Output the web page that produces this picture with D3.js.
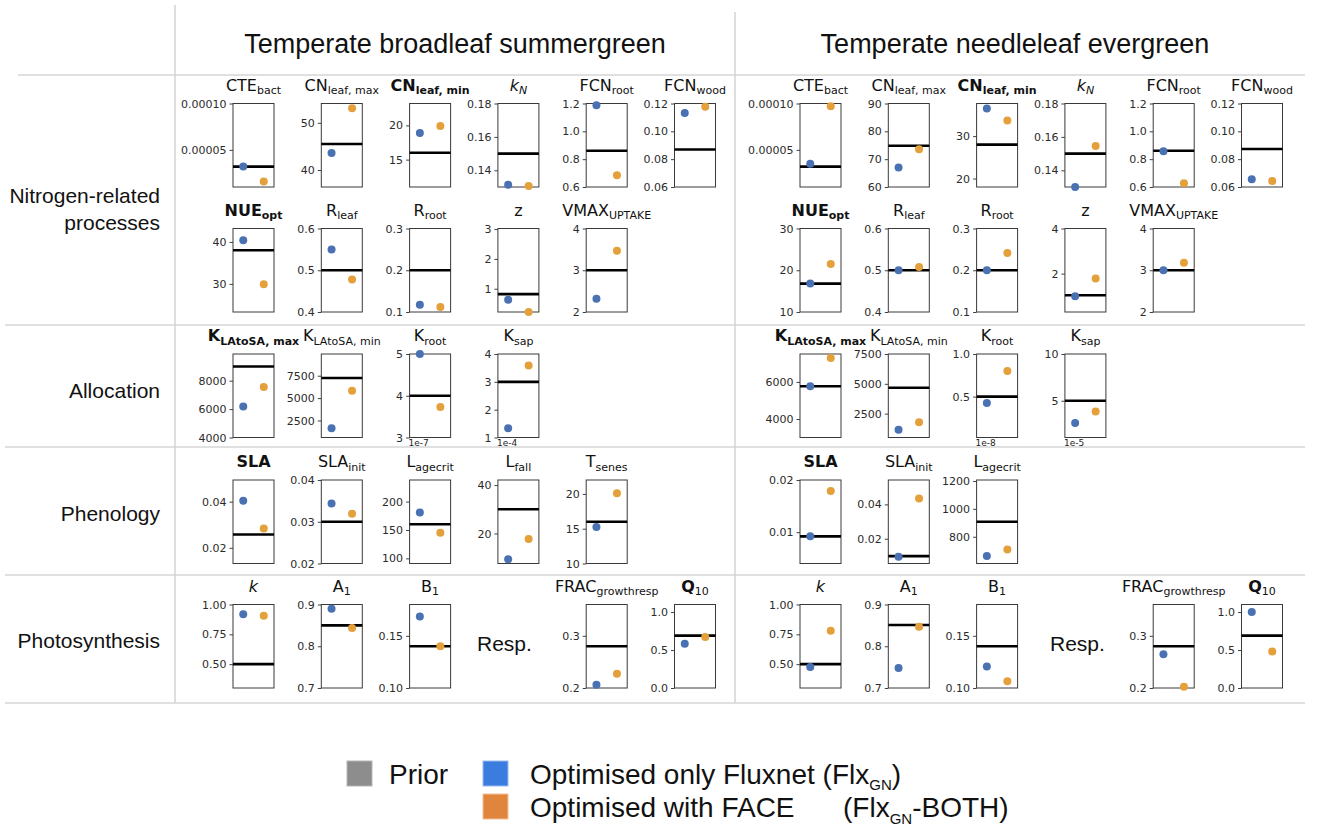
<!DOCTYPE html>
<html>
<head>
<meta charset="utf-8">
<script src="https://cdn.jsdelivr.net/npm/d3@7"></script>
<style>
  body { margin: 0; background: #fff; }
  svg { display: block; }
</style>
</head>
<body>
<svg id="chart" width="1324" height="830"></svg>
<script>
// ---------------------------------------------------------------
// Data: prior and optimised parameter values for two plant types
// ---------------------------------------------------------------
const pftNames = ["Temperate broadleaf summergreen", "Temperate needleleaf evergreen"];
const groupNames = [["Nitrogen-related", "processes"], ["Allocation"], ["Phenology"], ["Photosynthesis"]];
const respLabel = "Resp.";
const legendLabels = ["Prior", "Optimised only Fluxnet", "Optimised with FACE"];

// parameter titles: main symbol, subscript, weight / style flags
const parameterTitles = [
  { main: "CTE", sub: "bact" },
  { main: "CN", sub: "leaf, max" },
  { main: "CN", sub: "leaf, min", bold: true, subBold: true },
  { main: "k", sub: "N", italic: true, subItalic: true },
  { main: "FCN", sub: "root" },
  { main: "FCN", sub: "wood" },
  { main: "NUE", sub: "opt", bold: true, subBold: true },
  { main: "R", sub: "leaf" },
  { main: "R", sub: "root" },
  { main: "z" },
  { main: "VMAX", sub: "UPTAKE" },
  { main: "K", sub: "LAtoSA, max", bold: true, subBold: true },
  { main: "K", sub: "LAtoSA, min" },
  { main: "K", sub: "root" },
  { main: "K", sub: "sap" },
  { main: "SLA", bold: true },
  { main: "SLA", sub: "init" },
  { main: "L", sub: "agecrit" },
  { main: "L", sub: "fall" },
  { main: "T", sub: "senes" },
  { main: "k", italic: true },
  { main: "A", sub: "1" },
  { main: "B", sub: "1" },
  { main: "FRAC", sub: "growthresp" },
  { main: "Q", sub: "10", bold: true }
];

// Temperate broadleaf summergreen
const broadleafPrior   = [3.2e-5, 45.5, 16.0, 0.150, 0.86, 0.087, 38.0, 0.50, 0.20, 0.82, 3.00, 9000, 7240, 4.00, 3.00, 0.0258, 0.030, 160, 30.0, 16.0, 0.50, 0.850, 0.140, 0.280, 0.69];
const broadleafFluxnet = [3.2e-5, 43.6, 18.9, 0.1314, 1.188, 0.1132, 40.4, 0.5496, 0.1176, 0.633, 2.32, 6190, 1640, 5.00, 1.336, 0.0404, 0.0344, 180.6, 9.4, 15.24, 0.919, 0.890, 0.1685, 0.2064, 0.583];
const broadleafFace    = [1.6e-5, 53.1, 19.9, 0.1306, 0.685, 0.1176, 29.9, 0.4776, 0.112, 0.22, 3.47, 7550, 5820, 3.73, 3.59, 0.0284, 0.0319, 145.3, 17.7, 20.1, 0.906, 0.844, 0.140, 0.2274, 0.671];
const broadleafLimits  = [[1e-5, 1e-4], [36.4, 54.1], [11.0, 23.2], [0.13, 0.18], [0.6, 1.2], [0.06, 0.12], [23.3, 43.2], [0.4, 0.6], [0.1, 0.3], [0.22, 3.02], [2, 4], [4000, 9880], [600, 9925], [3, 5], [1, 4], [0.0132, 0.0494], [0.02, 0.04], [91, 238], [7.6, 42.1], [10, 22], [0.3, 1.0], [0.7, 0.9], [0.10, 0.18], [0.2, 0.36], [0, 1.1]];
const broadleafTicks   = [["0.00005", "0.00010"], ["40", "50"], ["15", "20"], ["0.14", "0.16", "0.18"], ["0.6", "0.8", "1.0", "1.2"], ["0.06", "0.08", "0.10", "0.12"], ["30", "40"], ["0.4", "0.5", "0.6"], ["0.1", "0.2", "0.3"], ["1", "2", "3"], ["2", "3", "4"], ["4000", "6000", "8000"], ["2500", "5000", "7500"], ["3", "4", "5"], ["1", "2", "3", "4"], ["0.02", "0.04"], ["0.02", "0.03", "0.04"], ["100", "150", "200"], ["20", "40"], ["10", "15", "20"], ["0.50", "0.75", "1.00"], ["0.7", "0.8", "0.9"], ["0.10", "0.15"], ["0.2", "0.3"], ["0.0", "0.5", "1.0"]];
const broadleafOffsets = [null, null, null, null, null, null, null, null, null, null, null, null, null, "1e-7", "1e-4", null, null, null, null, null, null, null, null, null, null];

// Temperate needleleaf evergreen (no L_fall / T_senes)
const needleleafPrior   = [3.2e-5, 74.8, 28.0, 0.150, 0.86, 0.0873, 16.8, 0.50, 0.20, 1.04, 3.00, 5770, 4665, 0.50, 5.00, 0.0092, 0.0099, 907, null, null, 0.50, 0.851, 0.140, 0.280, 0.69];
const needleleafFluxnet = [3.5e-5, 67.0, 36.5, 0.130, 0.856, 0.0656, 16.8, 0.50, 0.20, 1.00, 3.00, 5770, 1160, 0.424, 2.61, 0.0092, 0.0095, 661, null, null, 0.477, 0.748, 0.1206, 0.2645, 1.00];
const needleleafFace    = [9.7e-5, 73.6, 33.7, 0.1546, 0.627, 0.0644, 21.5, 0.508, 0.2416, 1.78, 3.18, 7300, 1775, 0.80, 3.86, 0.0179, 0.0435, 709, null, null, 0.779, 0.847, 0.1065, 0.2026, 0.48];
const needleleafLimits  = [[1e-5, 1e-4], [60, 90], [18.0, 37.7], [0.13, 0.18], [0.6, 1.2], [0.06, 0.12], [10, 30], [0.4, 0.6], [0.1, 0.3], [0.3, 4.0], [2, 4], [3000, 7510], [500, 7500], [0.02, 1.0], [1.07, 10], [0.004, 0.02], [0.0056, 0.0542], [608, 1207], null, null, [0.3, 1.0], [0.7, 0.9], [0.10, 0.18], [0.2, 0.36], [0, 1.1]];
const needleleafTicks   = [["0.00005", "0.00010"], ["60", "70", "80", "90"], ["20", "30"], ["0.14", "0.16", "0.18"], ["0.6", "0.8", "1.0", "1.2"], ["0.06", "0.08", "0.10", "0.12"], ["10", "20", "30"], ["0.4", "0.5", "0.6"], ["0.1", "0.2", "0.3"], ["2", "4"], ["2", "3", "4"], ["4000", "6000"], ["2500", "5000", "7500"], ["0.5", "1.0"], ["5", "10"], ["0.01", "0.02"], ["0.02", "0.04"], ["800", "1000", "1200"], null, null, ["0.50", "0.75", "1.00"], ["0.7", "0.8", "0.9"], ["0.10", "0.15"], ["0.2", "0.3"], ["0.0", "0.5", "1.0"]];
const needleleafOffsets = [null, null, null, null, null, null, null, null, null, null, null, null, null, "1e-8", "1e-5", null, null, null, null, null, null, null, null, null, null];

const pftData = [
  { prior: broadleafPrior, fluxnet: broadleafFluxnet, face: broadleafFace, limits: broadleafLimits, ticks: broadleafTicks, offsets: broadleafOffsets },
  { prior: needleleafPrior, fluxnet: needleleafFluxnet, face: needleleafFace, limits: needleleafLimits, ticks: needleleafTicks, offsets: needleleafOffsets }
];

// panel rows (parameter indices); null marks the slot of the "Resp." label
const panelRows = [
  [0, 1, 2, 3, 4, 5],
  [6, 7, 8, 9, 10],
  [11, 12, 13, 14],
  [15, 16, 17, 18, 19],
  [20, 21, 22, null, 23, 24]
];

// ---------------------------------------------------------------
// Layout & style
// ---------------------------------------------------------------
const colors = { prior: "#000000", fluxnet: "#4a72b3", face: "#e4a03b", grid: "#d6d6d6", frame: "#3a3a3a", tick: "#2b2b2b" };
const firstBoxX = [233, 800];
const colStep = 88.3;
const boxW = 41;
const boxH = 83.5;
const rowTops = [103.5, 228.5, 354, 480, 604.5];
const groupLabelY = [[203, 230], [398], [521], [648]];
const pftTitleX = [455, 1015];
const respShift = [3, 9];

const svg = d3.select("#chart");

// separators
const grid = svg.append("g").attr("stroke", colors.grid).attr("stroke-width", 1.6);
grid.append("line").attr("x1", 175).attr("x2", 175).attr("y1", 5).attr("y2", 703);
grid.append("line").attr("x1", 735).attr("x2", 735).attr("y1", 12).attr("y2", 703);
grid.append("line").attr("x1", 18).attr("x2", 1305).attr("y1", 75).attr("y2", 75);
[325, 447, 575, 703].forEach(y => grid.append("line").attr("x1", 5).attr("x2", 1305).attr("y1", y).attr("y2", y));

// column headings
svg.selectAll("text.pft").data(pftNames).join("text")
  .attr("class", "pft")
  .attr("x", (d, i) => pftTitleX[i]).attr("y", 53)
  .attr("text-anchor", "middle")
  .style("font-family", "'Liberation Sans', Arial, sans-serif")
  .style("font-size", "27px").style("fill", "#111")
  .text(d => d);

// group labels
groupNames.forEach((lines, gi) => {
  lines.forEach((line, li) => {
    svg.append("text")
      .attr("x", 160).attr("y", groupLabelY[gi][li])
      .attr("text-anchor", "end")
      .style("font-family", "'Liberation Sans', Arial, sans-serif")
      .style("font-size", "21px").style("fill", "#111")
      .text(line);
  });
});

function drawTitle(g, spec, cx, y) {
  const t = g.append("text")
    .attr("x", cx).attr("y", y)
    .attr("text-anchor", "middle")
    .style("font-family", "'DejaVu Sans', sans-serif")
    .style("fill", "#111");
  t.append("tspan").text(spec.main)
    .style("font-size", "16px")
    .style("font-weight", spec.bold ? "bold" : "normal")
    .style("font-style", spec.italic ? "italic" : "normal");
  if (spec.sub) {
    t.append("tspan").attr("dy", 3.5).text(spec.sub)
      .style("font-size", "11px")
      .style("font-weight", spec.subBold ? "bold" : "normal")
      .style("font-style", spec.subItalic ? "italic" : "normal");
  }
}

pftData.forEach((pft, pi) => {
  panelRows.forEach((row, ri) => {
    row.forEach((p, ci) => {
      const x0 = firstBoxX[pi] + ci * colStep;
      const y0 = rowTops[ri];
      if (p === null) {
        svg.append("text")
          .attr("x", x0 + boxW / 2 - 17 + respShift[pi]).attr("y", y0 + 46)
          .attr("text-anchor", "middle")
          .style("font-family", "'Liberation Sans', Arial, sans-serif")
          .style("font-size", "21px").style("fill", "#111")
          .text(respLabel);
        return;
      }
      if (!pft.limits[p]) return;

      const g = svg.append("g").attr("transform", `translate(${x0},${y0})`);
      const y = d3.scaleLinear().domain(pft.limits[p]).range([boxH, 0]);
      const x = d3.scaleBand().domain(["fluxnet", "face"]).range([0, boxW]).padding(0);

      // y axis
      const labels = pft.ticks[p];
      const axis = d3.axisLeft(y)
        .tickValues(labels.map(Number))
        .tickFormat((d, i) => labels[i])
        .tickSize(3.5).tickPadding(3);
      const ax = g.append("g").call(axis);
      ax.select(".domain").remove();
      ax.selectAll(".tick line").attr("stroke", colors.tick).attr("stroke-width", 0.9);
      ax.selectAll(".tick text")
        .style("font-family", "'DejaVu Sans', sans-serif")
        .style("font-size", "11px").style("fill", "#2b2b2b");

      // frame
      g.append("rect").attr("x", 0).attr("y", 0).attr("width", boxW).attr("height", boxH)
        .attr("fill", "none").attr("stroke", colors.frame).attr("stroke-width", 1);

      // prior value line
      g.append("line")
        .attr("x1", 0).attr("x2", boxW)
        .attr("y1", y(pft.prior[p])).attr("y2", y(pft.prior[p]))
        .attr("stroke", colors.prior).attr("stroke-width", 2.6);

      // optimised values
      const pts = [
        { key: "fluxnet", v: pft.fluxnet[p] },
        { key: "face", v: pft.face[p] }
      ];
      g.selectAll("circle").data(pts).join("circle")
        .attr("cx", d => x(d.key) + x.bandwidth() / 2)
        .attr("cy", d => y(d.v))
        .attr("r", 4)
        .attr("fill", d => colors[d.key]);

      // scale offset
      if (pft.offsets[p]) {
        g.append("text").attr("x", -1).attr("y", boxH + 8)
          .style("font-family", "'DejaVu Sans', sans-serif")
          .style("font-size", "9px").style("fill", "#222")
          .text(pft.offsets[p]);
      }

      drawTitle(g, parameterTitles[p], boxW / 2, -13);
    });
  });
});

// legend
const legend = svg.append("g").style("font-family", "'Liberation Sans', Arial, sans-serif").style("fill", "#111");
const sw = 25;
legend.append("rect").attr("x", 347).attr("y", 761).attr("width", sw).attr("height", sw).attr("fill", "#8d8d8d").attr("stroke", "#b5b5b5");
legend.append("rect").attr("x", 483).attr("y", 761).attr("width", sw).attr("height", sw).attr("fill", "#3b7ddf").attr("stroke", "#9dbcee");
legend.append("rect").attr("x", 483).attr("y", 794).attr("width", sw).attr("height", sw).attr("fill", "#e2853c").attr("stroke", "#f0c09a");

legend.append("text").attr("x", 389).attr("y", 784).style("font-size", "28px").text(legendLabels[0]);

const l1 = legend.append("text").attr("x", 530).attr("y", 784).style("font-size", "28px");
l1.append("tspan").text(legendLabels[1] + " (Flx");
l1.append("tspan").attr("dy", 6).style("font-size", "15px").text("GN");
l1.append("tspan").attr("dy", -6).text(")");

const l2 = legend.append("text").attr("x", 530).attr("y", 817).style("font-size", "28px");
l2.append("tspan").text(legendLabels[2]);
l2.append("tspan").attr("x", 843).text("(Flx");
l2.append("tspan").attr("dy", 7).style("font-size", "15px").text("GN");
l2.append("tspan").attr("dy", -7).text("-BOTH)");
</script>
</body>
</html>
